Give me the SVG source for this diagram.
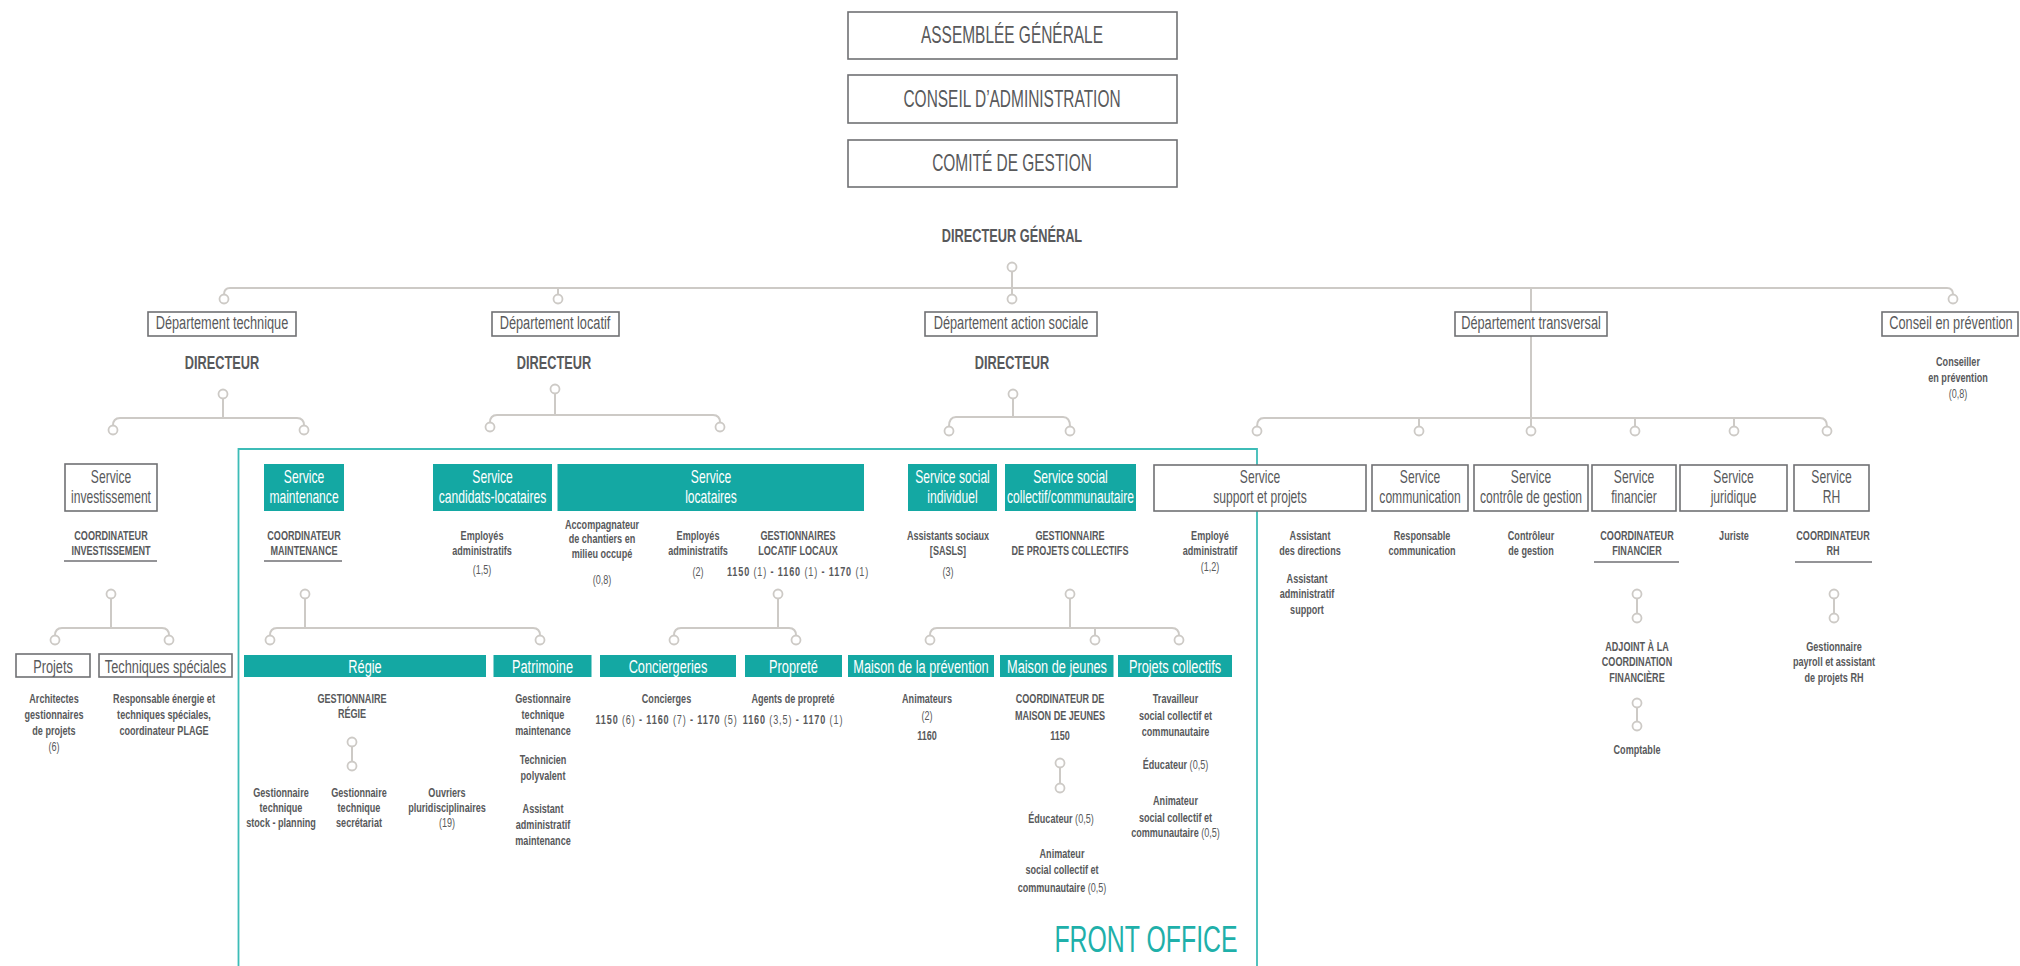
<svg xmlns="http://www.w3.org/2000/svg" width="2020" height="966" viewBox="0 0 2020 966">
<defs>
<style>
.t{font-family:'Liberation Sans',Arial,sans-serif;fill:#58595b;text-anchor:middle}
.tb{font-size:23px}
.dg{font-size:19px;font-weight:bold}
.dep{font-size:19px}
.sv{font-size:18px}
.w{fill:#fff}
.bar{font-size:19px;fill:#fff}
.sm{font-size:13.5px;font-weight:bold}
.n{font-weight:normal}
.num{letter-spacing:1.3px}
.fo{font-size:37px;fill:#1fb0aa}
.box{fill:#fff;stroke:#707174;stroke-width:1.6}
.teal{fill:#14a8a3}
.ul{stroke:#707174;stroke-width:1.6}
.c{fill:none;stroke:#cdcac6;stroke-width:2}
.k{fill:#fff;stroke:#cdcac6;stroke-width:1.8}
.front{fill:none;stroke:#3dbcb7;stroke-width:1.8}
</style>
</defs>
<rect width="2020" height="966" fill="#fff"/>

<g id="connectors">
<path class="c" d="M224,294.5 Q224,288 230,288 H1947 Q1953,288 1953,294.5"/>
<path class="c" d="M1012,271.5 V294.5 M558,288 V294.5 M1531,288 V418"/>
<circle class="k" cx="1012" cy="267" r="4.5"/>
<circle class="k" cx="224" cy="299" r="4.5"/>
<circle class="k" cx="558" cy="299" r="4.5"/>
<circle class="k" cx="1012" cy="299" r="4.5"/>
<circle class="k" cx="1953" cy="299" r="4.5"/>
<path class="c" d="M223,398.5 V418 M113,425.5 Q113,418 120,418 H297 Q304,418 304,425.5"/>
<circle class="k" cx="223" cy="394" r="4.5"/><circle class="k" cx="113" cy="430" r="4.5"/><circle class="k" cx="304" cy="430" r="4.5"/>
<path class="c" d="M555,393.5 V415 M490,422.5 Q490,415 497,415 H713 Q720,415 720,422.5"/>
<circle class="k" cx="555" cy="389" r="4.5"/><circle class="k" cx="490" cy="427" r="4.5"/><circle class="k" cx="720" cy="427" r="4.5"/>
<path class="c" d="M1013,398.5 V417 M949,426.5 Q949,417 956,417 H1063 Q1070,417 1070,426.5"/>
<circle class="k" cx="1013" cy="394" r="4.5"/><circle class="k" cx="949" cy="431" r="4.5"/><circle class="k" cx="1070" cy="431" r="4.5"/>
<path class="c" d="M1257,426.5 Q1257,418 1264,418 H1820 Q1827,418 1827,426.5 M1419,418 V426.5 M1531,418 V426.5 M1635,418 V426.5 M1734,418 V426.5"/>
<circle class="k" cx="1257" cy="431" r="4.5"/><circle class="k" cx="1419" cy="431" r="4.5"/><circle class="k" cx="1531" cy="431" r="4.5"/><circle class="k" cx="1635" cy="431" r="4.5"/><circle class="k" cx="1734" cy="431" r="4.5"/><circle class="k" cx="1827" cy="431" r="4.5"/>
<path class="c" d="M111,598.5 V628 M55,635.5 Q55,628 62,628 H162 Q169,628 169,635.5"/>
<circle class="k" cx="111" cy="594" r="4.5"/><circle class="k" cx="55" cy="640" r="4.5"/><circle class="k" cx="169" cy="640" r="4.5"/>
<path class="c" d="M305,598.5 V628 M270,635.5 Q270,628 277,628 H533 Q540,628 540,635.5"/>
<circle class="k" cx="305" cy="594" r="4.5"/><circle class="k" cx="270" cy="640" r="4.5"/><circle class="k" cx="540" cy="640" r="4.5"/>
<path class="c" d="M778,598.5 V628 M674,635.5 Q674,628 681,628 H789 Q796,628 796,635.5"/>
<circle class="k" cx="778" cy="594" r="4.5"/><circle class="k" cx="674" cy="640" r="4.5"/><circle class="k" cx="796" cy="640" r="4.5"/>
<path class="c" d="M1070,598.5 V628 M930,635.5 Q930,628 937,628 H1172 Q1179,628 1179,635.5 M1095,628 V635.5"/>
<circle class="k" cx="1070" cy="594" r="4.5"/><circle class="k" cx="930" cy="640" r="4.5"/><circle class="k" cx="1095" cy="640" r="4.5"/><circle class="k" cx="1179" cy="640" r="4.5"/>
<path class="c" d="M352,746.5 V761.5"/>
<circle class="k" cx="352" cy="742" r="4.5"/><circle class="k" cx="352" cy="766" r="4.5"/>
<path class="c" d="M1060,767.5 V783.5"/>
<circle class="k" cx="1060" cy="763" r="4.5"/><circle class="k" cx="1060" cy="788" r="4.5"/>
<path class="c" d="M1637,598.5 V613.5 M1637,707.5 V721.5"/>
<circle class="k" cx="1637" cy="594" r="4.5"/><circle class="k" cx="1637" cy="618" r="4.5"/>
<circle class="k" cx="1637" cy="703" r="4.5"/><circle class="k" cx="1637" cy="726" r="4.5"/>
<path class="c" d="M1834,598.5 V613.5"/>
<circle class="k" cx="1834" cy="594" r="4.5"/><circle class="k" cx="1834" cy="618" r="4.5"/>
</g>

<g id="front-office">
<path class="front" d="M238.5,970 V449 H1257 V970"/>
<text class="t fo" transform="translate(1146,952) scale(.672 1)">FRONT OFFICE</text>
</g>

<g id="assemblee"><rect class="box" x="848" y="12" width="329" height="47"/><text class="t tb" transform="translate(1012,43) scale(.672 1)">ASSEMBLÉE GÉNÉRALE</text></g>
<g id="conseil-admin"><rect class="box" x="848" y="75" width="329" height="48"/><text class="t tb" transform="translate(1012,107) scale(.672 1)">CONSEIL D’ADMINISTRATION</text></g>
<g id="comite"><rect class="box" x="848" y="140" width="329" height="47"/><text class="t tb" transform="translate(1012,171) scale(.672 1)">COMITÉ DE GESTION</text></g>
<g id="dg"><text class="t dg" transform="translate(1012,242) scale(.672 1)">DIRECTEUR GÉNÉRAL</text></g>

<g id="dep-technique"><rect class="box" x="148" y="312" width="148" height="24"/><text class="t dep" transform="translate(222,329) scale(.672 1)">Département technique</text>
<text class="t dg" transform="translate(222,369) scale(.672 1)">DIRECTEUR</text></g>
<g id="dep-locatif"><rect class="box" x="492" y="312" width="127" height="24"/><text class="t dep" transform="translate(555,329) scale(.672 1)">Département locatif</text>
<text class="t dg" transform="translate(554,369) scale(.672 1)">DIRECTEUR</text></g>
<g id="dep-social"><rect class="box" x="925" y="312" width="172" height="24"/><text class="t dep" transform="translate(1011,329) scale(.672 1)">Département action sociale</text>
<text class="t dg" transform="translate(1012,369) scale(.672 1)">DIRECTEUR</text></g>
<g id="dep-transversal"><rect class="box" x="1455" y="312" width="152" height="24"/><text class="t dep" transform="translate(1531,329) scale(.672 1)">Département  transversal</text></g>
<g id="conseil-prevention"><rect class="box" x="1882" y="312" width="136" height="24"/><text class="t dep" transform="translate(1951,329) scale(.672 1)">Conseil en prévention</text>
<text class="t sm" transform="translate(1958,366) scale(.672 1)">Conseiller<tspan x="0" dy="16">en prévention</tspan><tspan class="n" x="0" dy="16">(0,8)</tspan></text></g>

<g id="svc-investissement"><rect class="box" x="65" y="464" width="92" height="47"/><text class="t sv" transform="translate(111,483) scale(.672 1)">Service<tspan x="0" dy="20">investissement</tspan></text>
<text class="t sm" transform="translate(111,540) scale(.672 1)">COORDINATEUR<tspan x="0" dy="15">INVESTISSEMENT</tspan></text><line class="ul" x1="64" y1="561" x2="157" y2="561"/></g>
<g id="svc-maintenance"><rect class="teal" x="264" y="464" width="80" height="47"/><text class="t sv w" transform="translate(304,483) scale(.672 1)">Service<tspan x="0" dy="20">maintenance</tspan></text>
<text class="t sm" transform="translate(304,540) scale(.672 1)">COORDINATEUR<tspan x="0" dy="15">MAINTENANCE</tspan></text><line class="ul" x1="264" y1="561" x2="342" y2="561"/></g>
<g id="svc-candidats"><rect class="teal" x="433" y="464" width="119" height="47"/><text class="t sv w" transform="translate(492.5,483) scale(.672 1)">Service<tspan x="0" dy="20">candidats-locataires</tspan></text>
<text class="t sm" transform="translate(482,540) scale(.672 1)">Employés<tspan x="0" dy="15">administratifs</tspan><tspan class="n" x="0" dy="19">(1,5)</tspan></text></g>
<g id="svc-locataires"><rect class="teal" x="557.5" y="464" width="306.5" height="47"/><text class="t sv w" transform="translate(711,483) scale(.672 1)">Service<tspan x="0" dy="20">locataires</tspan></text>
<text class="t sm" transform="translate(602,529) scale(.672 1)">Accompagnateur<tspan x="0" dy="14.5">de chantiers en</tspan><tspan x="0" dy="14.5">milieu occupé</tspan><tspan class="n" x="0" dy="26">(0,8)</tspan></text>
<text class="t sm" transform="translate(698,540) scale(.672 1)">Employés<tspan x="0" dy="15">administratifs</tspan><tspan class="n" x="0" dy="21">(2)</tspan></text>
<text class="t sm" transform="translate(798,540) scale(.672 1)">GESTIONNAIRES<tspan x="0" dy="15">LOCATIF LOCAUX</tspan><tspan class="num" x="0" dy="21">1150 <tspan class="n">(1)</tspan> - 1160 <tspan class="n">(1)</tspan> - 1170 <tspan class="n">(1)</tspan></tspan></text></g>
<g id="svc-social-individuel"><rect class="teal" x="908" y="464" width="89" height="47"/><text class="t sv w" transform="translate(952.5,483) scale(.672 1)">Service social<tspan x="0" dy="20">individuel</tspan></text>
<text class="t sm" transform="translate(948,540) scale(.672 1)">Assistants sociaux<tspan x="0" dy="15">[SASLS]</tspan><tspan class="n" x="0" dy="21">(3)</tspan></text></g>
<g id="svc-social-collectif"><rect class="teal" x="1005" y="464" width="131" height="47"/><text class="t sv w" transform="translate(1070.5,483) scale(.672 1)">Service social<tspan x="0" dy="20">collectif/communautaire</tspan></text>
<text class="t sm" transform="translate(1070,540) scale(.672 1)">GESTIONNAIRE<tspan x="0" dy="15">DE PROJETS COLLECTIFS</tspan></text></g>
<g id="svc-support"><rect class="box" x="1154" y="465" width="212" height="46"/><text class="t sv" transform="translate(1260,483) scale(.672 1)">Service<tspan x="0" dy="20">support et projets</tspan></text>
<text class="t sm" transform="translate(1210,540) scale(.672 1)">Employé<tspan x="0" dy="15">administratif</tspan><tspan class="n" x="0" dy="16">(1,2)</tspan></text>
<text class="t sm" transform="translate(1310,540) scale(.672 1)">Assistant<tspan x="0" dy="15">des directions</tspan></text>
<text class="t sm" transform="translate(1307,583) scale(.672 1)">Assistant<tspan x="0" dy="15.5">administratif</tspan><tspan x="0" dy="16">support</tspan></text></g>
<g id="svc-communication"><rect class="box" x="1372" y="465" width="96" height="46"/><text class="t sv" transform="translate(1420,483) scale(.672 1)">Service<tspan x="0" dy="20">communication</tspan></text>
<text class="t sm" transform="translate(1422,540) scale(.672 1)">Responsable<tspan x="0" dy="15">communication</tspan></text></g>
<g id="svc-controle"><rect class="box" x="1474" y="465" width="114" height="46"/><text class="t sv" transform="translate(1531,483) scale(.672 1)">Service<tspan x="0" dy="20">contrôle de gestion</tspan></text>
<text class="t sm" transform="translate(1531,540) scale(.672 1)">Contrôleur<tspan x="0" dy="15">de gestion</tspan></text></g>
<g id="svc-financier"><rect class="box" x="1592" y="465" width="84" height="46"/><text class="t sv" transform="translate(1634,483) scale(.672 1)">Service<tspan x="0" dy="20">financier</tspan></text>
<text class="t sm" transform="translate(1637,540) scale(.672 1)">COORDINATEUR<tspan x="0" dy="15">FINANCIER</tspan></text><line class="ul" x1="1594" y1="562" x2="1679" y2="562"/>
<text class="t sm" transform="translate(1637,651) scale(.672 1)">ADJOINT À LA<tspan x="0" dy="15.5">COORDINATION</tspan><tspan x="0" dy="15.5">FINANCIÈRE</tspan></text>
<text class="t sm" transform="translate(1637,754) scale(.672 1)">Comptable</text></g>
<g id="svc-juridique"><rect class="box" x="1680" y="465" width="107" height="46"/><text class="t sv" transform="translate(1733.5,483) scale(.672 1)">Service<tspan x="0" dy="20">juridique</tspan></text>
<text class="t sm" transform="translate(1734,540) scale(.672 1)">Juriste</text></g>
<g id="svc-rh"><rect class="box" x="1794" y="465" width="75" height="46"/><text class="t sv" transform="translate(1831.5,483) scale(.672 1)">Service<tspan x="0" dy="20">RH</tspan></text>
<text class="t sm" transform="translate(1833,540) scale(.672 1)">COORDINATEUR<tspan x="0" dy="15">RH</tspan></text><line class="ul" x1="1795" y1="562" x2="1872" y2="562"/>
<text class="t sm" transform="translate(1834,651) scale(.672 1)">Gestionnaire<tspan x="0" dy="15.5">payroll et assistant</tspan><tspan x="0" dy="15.5">de projets RH</tspan></text></g>

<g id="projets"><rect class="box" x="16" y="654" width="74" height="23"/><text class="t dep" transform="translate(53,673) scale(.672 1)">Projets</text>
<text class="t sm" transform="translate(54,703) scale(.672 1)">Architectes<tspan x="0" dy="16">gestionnaires</tspan><tspan x="0" dy="16">de projets</tspan><tspan class="n" x="0" dy="16">(6)</tspan></text></g>
<g id="techniques"><rect class="box" x="99" y="654" width="133" height="23"/><text class="t dep" transform="translate(165.5,673) scale(.672 1)">Techniques spéciales</text>
<text class="t sm" transform="translate(164,703) scale(.672 1)">Responsable énergie et<tspan x="0" dy="16">techniques spéciales,</tspan><tspan x="0" dy="16">coordinateur PLAGE</tspan></text></g>
<g id="regie"><rect class="teal" x="244" y="655" width="242" height="22"/><text class="t bar" transform="translate(365,673) scale(.672 1)">Régie</text>
<text class="t sm" transform="translate(352,703) scale(.672 1)">GESTIONNAIRE<tspan x="0" dy="15.5">RÉGIE</tspan></text>
<text class="t sm" transform="translate(281,796.5) scale(.672 1)">Gestionnaire<tspan x="0" dy="15.5">technique</tspan><tspan x="0" dy="15.5">stock - planning</tspan></text>
<text class="t sm" transform="translate(359,796.5) scale(.672 1)">Gestionnaire<tspan x="0" dy="15.5">technique</tspan><tspan x="0" dy="15.5">secrétariat</tspan></text>
<text class="t sm" transform="translate(447,796.5) scale(.672 1)">Ouvriers<tspan x="0" dy="15.5">pluridisciplinaires</tspan><tspan class="n" x="0" dy="15.5">(19)</tspan></text></g>
<g id="patrimoine"><rect class="teal" x="493.5" y="655" width="98" height="22"/><text class="t bar" transform="translate(542.5,673) scale(.672 1)">Patrimoine</text>
<text class="t sm" transform="translate(543,703) scale(.672 1)">Gestionnaire<tspan x="0" dy="16.5">technique</tspan><tspan x="0" dy="16">maintenance</tspan><tspan x="0" dy="29">Technicien</tspan><tspan x="0" dy="15.5">polyvalent</tspan><tspan x="0" dy="33">Assistant</tspan><tspan x="0" dy="16">administratif</tspan><tspan x="0" dy="16">maintenance</tspan></text></g>
<g id="conciergeries"><rect class="teal" x="600" y="655" width="136" height="22"/><text class="t bar" transform="translate(668,673) scale(.672 1)">Conciergeries</text>
<text class="t sm" transform="translate(666.5,703) scale(.672 1)">Concierges<tspan class="num" x="0" dy="21">1150 <tspan class="n">(6)</tspan> - 1160 <tspan class="n">(7)</tspan> - 1170 <tspan class="n">(5)</tspan></tspan></text></g>
<g id="proprete"><rect class="teal" x="745" y="655" width="97" height="22"/><text class="t bar" transform="translate(793.5,673) scale(.672 1)">Propreté</text>
<text class="t sm" transform="translate(793,703) scale(.672 1)">Agents de propreté<tspan class="num" x="0" dy="21">1160 <tspan class="n">(3,5)</tspan> - 1170 <tspan class="n">(1)</tspan></tspan></text></g>
<g id="maison-prevention"><rect class="teal" x="848" y="655" width="146" height="22"/><text class="t bar" transform="translate(921,673) scale(.672 1)">Maison de la prévention</text>
<text class="t sm" transform="translate(927,703) scale(.672 1)">Animateurs<tspan class="n" x="0" dy="17">(2)</tspan><tspan x="0" dy="20">1160</tspan></text></g>
<g id="maison-jeunes"><rect class="teal" x="1000" y="655" width="113.5" height="22"/><text class="t bar" transform="translate(1057,673) scale(.672 1)">Maison de jeunes</text>
<text class="t sm" transform="translate(1060,703) scale(.672 1)">COORDINATEUR DE<tspan x="0" dy="17">MAISON DE JEUNES</tspan><tspan x="0" dy="20">1150</tspan></text>
<text class="t sm" transform="translate(1061,823) scale(.672 1)">Éducateur <tspan class="n">(0,5)</tspan></text>
<text class="t sm" transform="translate(1062,858) scale(.672 1)">Animateur<tspan x="0" dy="16">social collectif et</tspan><tspan x="0" dy="18">communautaire <tspan class="n">(0,5)</tspan></tspan></text></g>
<g id="projets-collectifs"><rect class="teal" x="1118" y="655" width="114" height="22"/><text class="t bar" transform="translate(1175,673) scale(.672 1)">Projets collectifs</text>
<text class="t sm" transform="translate(1175.5,703) scale(.672 1)">Travailleur<tspan x="0" dy="17">social collectif et</tspan><tspan x="0" dy="16">communautaire</tspan></text>
<text class="t sm" transform="translate(1175.5,769) scale(.672 1)">Éducateur <tspan class="n">(0,5)</tspan></text>
<text class="t sm" transform="translate(1175.5,805) scale(.672 1)">Animateur<tspan x="0" dy="17">social collectif et</tspan><tspan x="0" dy="15">communautaire <tspan class="n">(0,5)</tspan></tspan></text></g>
</svg>
